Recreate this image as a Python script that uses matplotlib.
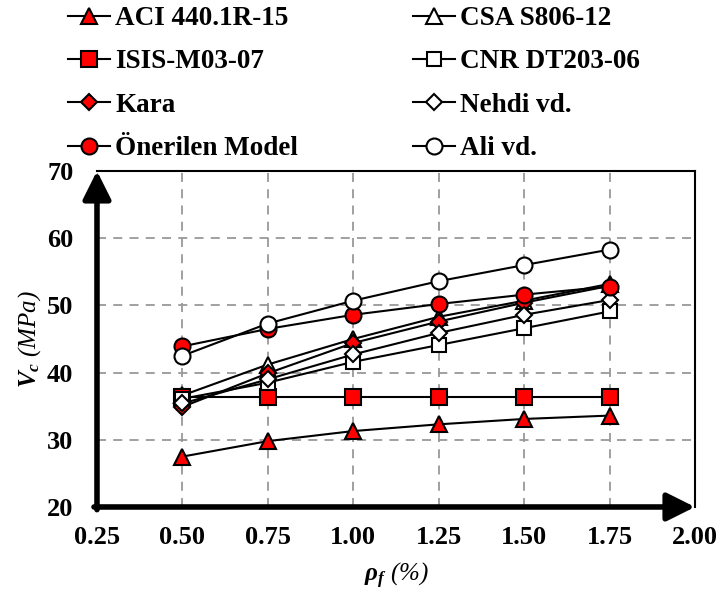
import matplotlib.pyplot as plt

plt.rcParams['font.family'] = ['Liberation Serif', 'DejaVu Serif']
plt.rcParams['font.weight'] = 'bold'
plt.rcParams['mathtext.fontset'] = 'custom'
plt.rcParams['mathtext.rm'] = 'Liberation Serif:bold:italic'
plt.rcParams['mathtext.it'] = 'Liberation Serif:bold:italic'
plt.rcParams['mathtext.bf'] = 'Liberation Serif:bold:italic'

rho = [0.50, 0.75, 1.00, 1.25, 1.50, 1.75]

aci = [27.5, 29.8, 31.3, 32.3, 33.1, 33.6]
csa = [36.6, 41.2, 45.0, 48.3, 50.7, 53.2]
isis = [36.3, 36.3, 36.3, 36.3, 36.3, 36.3]
cnr = [36.1, 38.5, 41.6, 44.1, 46.6, 49.1]
kara = [34.9, 39.9, 44.4, 47.6, 50.4, 52.9]
nehdi = [35.4, 39.0, 42.7, 45.9, 48.6, 50.8]
onerilen = [43.9, 46.5, 48.6, 50.2, 51.6, 52.8]
ali = [42.5, 47.3, 50.7, 53.6, 56.0, 58.3]

series = [
    ("ACI 440.1R-15", aci, "^", "red", 11),
    ("CSA S806-12", csa, "^", "white", 11),
    ("ISIS-M03-07", isis, "s", "red", 11),
    ("CNR DT203-06", cnr, "s", "white", 10),
    ("Kara", kara, "D", "red", 8),
    ("Nehdi vd.", nehdi, "D", "white", 8),
    ("Önerilen Model", onerilen, "o", "red", 11.5),
    ("Ali vd.", ali, "o", "white", 11.5),
]

fig = plt.figure(figsize=(7.2, 5.98), dpi=100)
ax = fig.add_axes([0.1347, 0.1522, 0.8306, 0.5619])

handles = []
for name, vals, mk, fc, ms in series:
    h, = ax.plot(rho, vals, color="black", lw=1.5, marker=mk, ms=ms,
                 mfc=fc, mec="black", mew=1.5, label=name, zorder=3)
    handles.append(h)

ax.set_xlim(0.25, 2.00)
ax.set_ylim(20, 70)
ax.set_xticks([0.25, 0.50, 0.75, 1.00, 1.25, 1.50, 1.75, 2.00])
ax.set_xticklabels(["0.25", "0.50", "0.75", "1.00", "1.25", "1.50", "1.75", "2.00"])
ax.set_yticks([20, 30, 40, 50, 60, 70])
ax.tick_params(axis="x", length=0, labelsize=19, pad=14)
ax.tick_params(axis="y", length=0, labelsize=19, pad=17)
for lab in ax.get_xticklabels() + ax.get_yticklabels():
    lab.set_fontweight("bold")

ax.grid(True, ls=(0, (5, 4)), color="#999999", lw=1.3)

# thick arrowed axes on the left and bottom
ax.spines["left"].set_visible(False)
ax.spines["bottom"].set_visible(False)
ax.spines["top"].set_linewidth(1.5)
ax.spines["right"].set_linewidth(1.5)
arrow = dict(arrowstyle="-|>,head_length=1.0,head_width=0.5", lw=4, color="black",
             mutation_scale=17, shrinkA=0, shrinkB=0)
ax.annotate("", xy=(0, 1), xytext=(0, -0.008), xycoords="axes fraction",
            arrowprops=arrow, annotation_clip=False, zorder=5)
ax.annotate("", xy=(1, 0), xytext=(-0.005, 0), xycoords="axes fraction",
            arrowprops=arrow, annotation_clip=False, zorder=5)

ax.set_ylabel(r"$V_c$ (MPa)", fontsize=18, style="italic", labelpad=3)
ax.set_xlabel(r"$\rho_f$ (%)", fontsize=18, style="italic", labelpad=8)

# two legend columns placed side by side above the plot
leg_kw = dict(loc="upper left", frameon=False, borderpad=0, borderaxespad=0,
              handlelength=1.55, handletextpad=0.2, labelspacing=0.68,
              prop={"weight": "bold", "size": 19.5})
left = [0, 2, 4, 6]
right = [1, 3, 5, 7]
fig.legend([handles[i] for i in left], [series[i][0] for i in left],
           bbox_to_anchor=(68 / 720, 0.99), **leg_kw)
fig.legend([handles[i] for i in right], [series[i][0] for i in right],
           bbox_to_anchor=(413 / 720, 0.99), **leg_kw)

fig.savefig("out.png", dpi=100)
